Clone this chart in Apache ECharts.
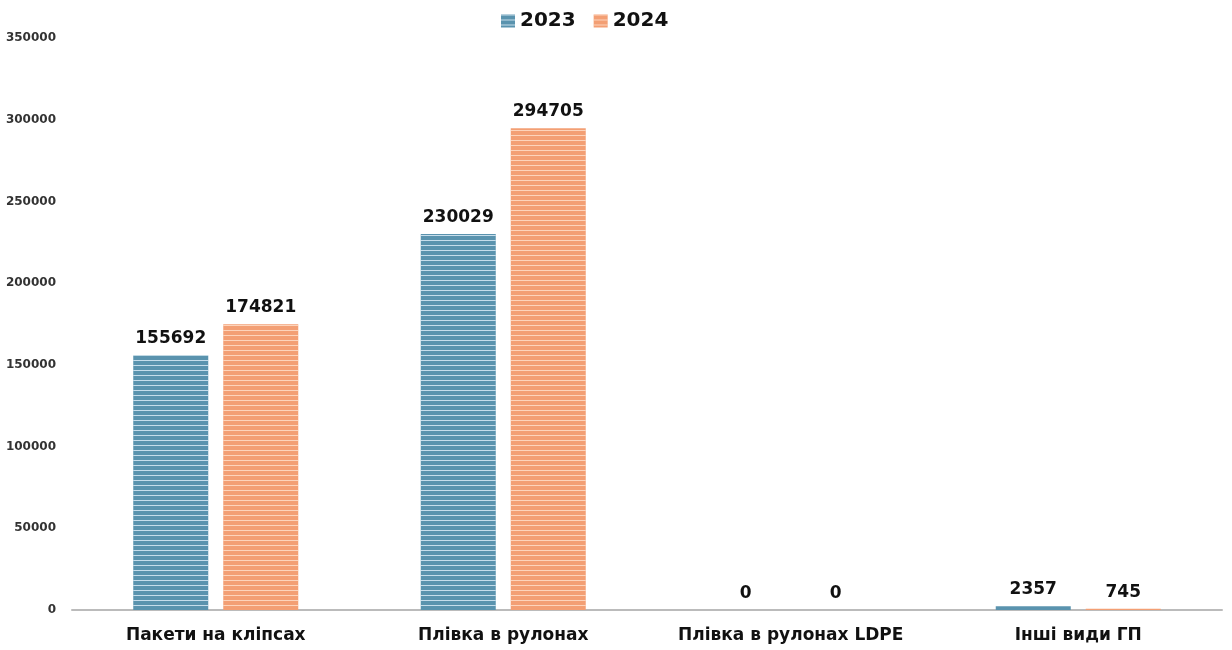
<!DOCTYPE html>
<html><head><meta charset="utf-8">
<script src="https://cdn.jsdelivr.net/npm/echarts@6/dist/echarts.min.js"></script>
<style>html,body{margin:0;padding:0;background:#fff}#c{width:1232px;height:650px}</style>
</head><body><div id="c"></div>
<script>
const categories = ['Пакети на кліпсах', 'Плівка в рулонах', 'Плівка в рулонах LDPE', 'Інші види ГП'];
const series2023 = [155692, 230029, 0, 2357];
const series2024 = [174821, 294705, 0, 745];
const seriesNames = ['2023', '2024'];

const FONT = 'DejaVu Sans';
const stripe = (c) => ({ color: c, dashArrayX: [[1, 0]], dashArrayY: [1, 4], symbol: 'rect', symbolSize: 1, rotation: 0 });
const lbl = { show: true, position: 'top', distance: 8, fontFamily: FONT, fontWeight: 'bold', fontSize: 17, color: '#111' };

const chart = echarts.init(document.getElementById('c'));
chart.setOption({
  animation: false,
  textStyle: { fontFamily: FONT },
  legend: {
    top: 6, left: 496, icon: 'rect', itemWidth: 14, itemHeight: 13, itemGap: 18,
    textStyle: { fontSize: 20, fontWeight: 'bold', color: '#111', fontFamily: FONT }
  },
  grid: { left: 72, right: 10, top: 38, bottom: 40 },
  xAxis: {
    type: 'category', data: categories,
    axisLine: { lineStyle: { color: '#bbb', width: 2 } },
    axisTick: { show: false },
    axisLabel: { interval: 0, hideOverlap: false, fontSize: 17, fontWeight: 'bold', color: '#111', margin: 17, fontFamily: FONT }
  },
  yAxis: {
    type: 'value', min: 0, max: 350000, interval: 50000,
    splitLine: { show: false }, axisLine: { show: false }, axisTick: { show: false },
    axisLabel: { fontSize: 12, fontWeight: 'bold', color: '#333', margin: 16, fontFamily: FONT,
      formatter: (v) => String(v) }
  },
  series: [
    { name: seriesNames[0], type: 'bar', data: series2023, barWidth: 75, barGap: '20%',
      itemStyle: { color: '#5a93ae', decal: stripe('rgba(225,240,250,0.8)') }, label: lbl },
    { name: seriesNames[1], type: 'bar', data: series2024, barWidth: 75,
      itemStyle: { color: '#f39f74', decal: stripe('rgba(255,225,205,0.8)') }, label: lbl }
  ]
});
</script></body></html>
